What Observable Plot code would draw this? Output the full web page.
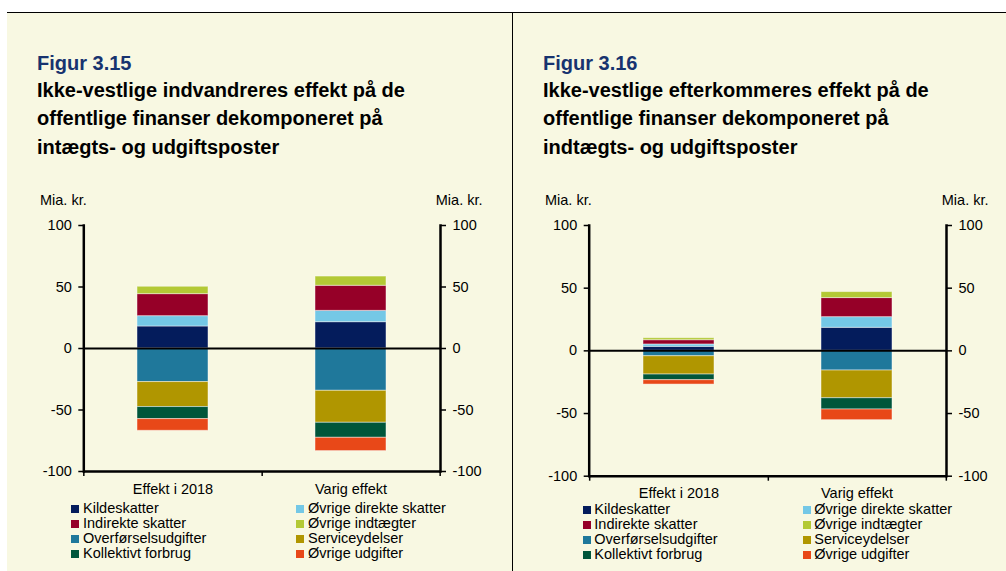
<!DOCTYPE html>
<html><head><meta charset="utf-8">
<script src="https://cdn.jsdelivr.net/npm/d3@7"></script>
<script src="https://cdn.jsdelivr.net/npm/@observablehq/plot@0.6"></script>
<style>
html,body{margin:0;padding:0;background:#fff;}
body{width:1006px;height:571px;position:relative;overflow:hidden;font-family:"Liberation Sans",Arial,sans-serif;}
#bg{position:absolute;left:7px;top:13px;width:999px;height:558px;background:#F8F8E2;}
#topline{position:absolute;left:7px;top:12px;width:999px;height:1.3px;background:#000;}
#vline{position:absolute;left:512px;top:12px;width:1.3px;height:559px;background:#000;}
.fig{position:absolute;font-weight:bold;font-size:20px;color:#17336F;line-height:1;}
.ttl{position:absolute;font-weight:bold;font-size:20px;color:#000;line-height:28.5px;white-space:nowrap;}
.unit{position:absolute;font-size:14.5px;color:#000;white-space:nowrap;line-height:1;}
.chart{position:absolute;}
.leg{position:absolute;font-size:14.5px;color:#000;white-space:nowrap;line-height:15px;}
.leg .it{position:absolute;white-space:nowrap;}
.leg .sw{position:absolute;width:8px;height:8px;top:4px;}
.leg .tx{position:absolute;}
</style>
</head><body>
<div id="bg"></div>
<div id="topline"></div>
<div id="vline"></div>
<script>
// ---------- DATA ----------
const categories = ["Effekt i 2018", "Varig effekt"];
const seriesNames = ["Kildeskatter", "Øvrige direkte skatter", "Indirekte skatter", "Øvrige indtægter",
  "Overførselsudgifter", "Serviceydelser", "Kollektivt forbrug", "Øvrige udgifter"];
const seriesColors = ["#041C5C", "#74C8E6", "#960028", "#B3C935", "#1F789B", "#B09600", "#00563A", "#E84818"];
const legendOrder = ["Kildeskatter", "Øvrige direkte skatter", "Indirekte skatter", "Øvrige indtægter",
  "Overførselsudgifter", "Serviceydelser", "Kollektivt forbrug", "Øvrige udgifter"];
const yTicks = [-100, -50, 0, 50, 100];
// Figur 3.15 values (mia. kr.), per series: [Effekt i 2018, Varig effekt]
const fig315Kildeskatter = [17.9, 21.4];
const fig315OvrDirekte = [8.4, 9.2];
const fig315Indirekte = [17.9, 20.4];
const fig315OvrIndtaegter = [6.0, 7.5];
const fig315Overforsel = [-27.3, -34.4];
const fig315Service = [-20.3, -26.0];
const fig315Kollektivt = [-9.8, -12.2];
const fig315OvrUdgifter = [-9.5, -10.8];
// Figur 3.16 values
const fig316Kildeskatter = [3.2, 18.4];
const fig316OvrDirekte = [1.9, 8.5];
const fig316Indirekte = [3.4, 15.2];
const fig316OvrIndtaegter = [1.6, 4.8];
const fig316Overforsel = [-4.3, -15.7];
const fig316Service = [-14.6, -22.1];
const fig316Kollektivt = [-4.5, -9.0];
const fig316OvrUdgifter = [-3.5, -8.5];

const title315 = ["Ikke-vestlige indvandreres effekt på de", "offentlige finanser dekomponeret på", "intægts- og udgiftsposter"];
const title316 = ["Ikke-vestlige efterkommeres effekt på de", "offentlige finanser dekomponeret på", "indtægts- og udgiftsposter"];

function toRows(arrs) {
  const rows = [];
  arrs.forEach((vals, si) => vals.forEach((v, ci) => rows.push({cat: categories[ci], series: seriesNames[si], value: v})));
  return rows;
}
const data315 = toRows([fig315Kildeskatter, fig315OvrDirekte, fig315Indirekte, fig315OvrIndtaegter,
  fig315Overforsel, fig315Service, fig315Kollektivt, fig315OvrUdgifter]);
const data316 = toRows([fig316Kildeskatter, fig316OvrDirekte, fig316Indirekte, fig316OvrIndtaegter,
  fig316Overforsel, fig316Service, fig316Kollektivt, fig316OvrUdgifter]);

function addDiv(cls, html, style) {
  const d = document.createElement("div");
  d.className = cls; d.innerHTML = html; Object.assign(d.style, style);
  document.body.appendChild(d); return d;
}

function panel(cfg) {
  addDiv("fig", cfg.fig, {left: cfg.tx + "px", top: (cfg.ty) + "px"});
  addDiv("ttl", cfg.title.join("<br>"), {left: cfg.tx + "px", top: (cfg.ty + 23) + "px"});
  const W = 506, H = 330;
  const mL = cfg.axL - cfg.ox, mR = W - (cfg.axR - cfg.ox);
  const mT = cfg.yTop - cfg.oy, mB = H - (cfg.yBot - cfg.oy);
  const step = (cfg.axR - cfg.axL) / 2;
  const fmt = (d) => String(d);
  const chart = Plot.plot({
    width: W, height: H,
    marginLeft: mL, marginRight: mR, marginTop: mT, marginBottom: mB,
    style: {background: "transparent", fontFamily: "'Liberation Sans', Arial, sans-serif", fontSize: "14.5px", color: "#000", overflow: "visible"},
    x: {domain: categories, paddingInner: 0.6, paddingOuter: 0.3, label: null},
    y: {domain: [-100, 100], label: null},
    color: {domain: seriesNames, range: seriesColors},
    marks: [
      Plot.barY(cfg.data, Plot.stackY({x: "cat", y: "value", fill: "series", order: seriesNames,
        stroke: "#ffffff", strokeOpacity: 0.45, strokeWidth: 1})),
      Plot.ruleY([0], {stroke: "#000", strokeWidth: 2}),
      Plot.ruleY([-100], {stroke: "#000", strokeWidth: 2.5}),
      Plot.frame({anchor: "left", stroke: "#000", strokeWidth: 2.5}),
      Plot.frame({anchor: "right", stroke: "#000", strokeWidth: 2.5}),
      Plot.ruleX([categories[0]], {y1: -100, y2: -100, insetTop: 5, dx: -step / 2, stroke: "#000", strokeWidth: 1.5}),
      Plot.ruleX(categories, {y1: -100, y2: -100, insetTop: 5, dx: step / 2, stroke: "#000", strokeWidth: 1.5}),
      Plot.axisY({anchor: "left", ticks: yTicks, tickFormat: fmt, tickSize: 5, tickPadding: 7, strokeWidth: 1.5, label: null, fontSize: 14.5}),
      Plot.axisY({anchor: "right", ticks: yTicks, tickFormat: fmt, tickSize: 5, tickPadding: 7, strokeWidth: 1.5, label: null, fontSize: 14.5}),
      Plot.axisX({anchor: "bottom", tickSize: 0, tickPadding: 12, label: null, fontSize: 14.5})
    ]
  });
  chart.classList.add("chart");
  chart.style.left = cfg.ox + "px"; chart.style.top = cfg.oy + "px";
  document.body.appendChild(chart);
  addDiv("unit", "Mia. kr.", {left: cfg.unitL + "px", top: "193px"});
  addDiv("unit", "Mia. kr.", {left: (cfg.unitR - 48) + "px", top: "193px", width: "48px", textAlign: "right"});
  // legend
  const leg = addDiv("leg", "", {left: "0px", top: "0px"});
  legendOrder.forEach((name, i) => {
    const col = i % 2, row = Math.floor(i / 2);
    const it = document.createElement("div");
    it.className = "it";
    it.style.left = (col === 0 ? cfg.legX1 : cfg.legX2) + "px";
    it.style.top = (cfg.legY + row * 15.1) + "px";
    const sw = document.createElement("div");
    sw.className = "sw"; sw.style.left = "0px";
    sw.style.background = seriesColors[seriesNames.indexOf(name)];
    const tx = document.createElement("div");
    tx.className = "tx"; tx.style.left = (cfg.legGap) + "px"; tx.textContent = name;
    it.appendChild(sw); it.appendChild(tx); leg.appendChild(it);
  });
}

panel({fig: "Figur 3.15", title: title315, tx: 37, ty: 52.5, data: data315,
  ox: 0, oy: 180, axL: 83.3, axR: 440, yTop: 225, yBot: 471,
  unitL: 40, unitR: 482.5, legX1: 71, legX2: 296, legGap: 12, legY: 501});
panel({fig: "Figur 3.16", title: title316, tx: 543, ty: 52.5, data: data316,
  ox: 506, oy: 180, axL: 588.7, axR: 946, yTop: 225, yBot: 475.7,
  unitL: 545, unitR: 988.5, legX1: 583.3, legX2: 803.3, legGap: 11, legY: 502});
</script>
</body></html>
